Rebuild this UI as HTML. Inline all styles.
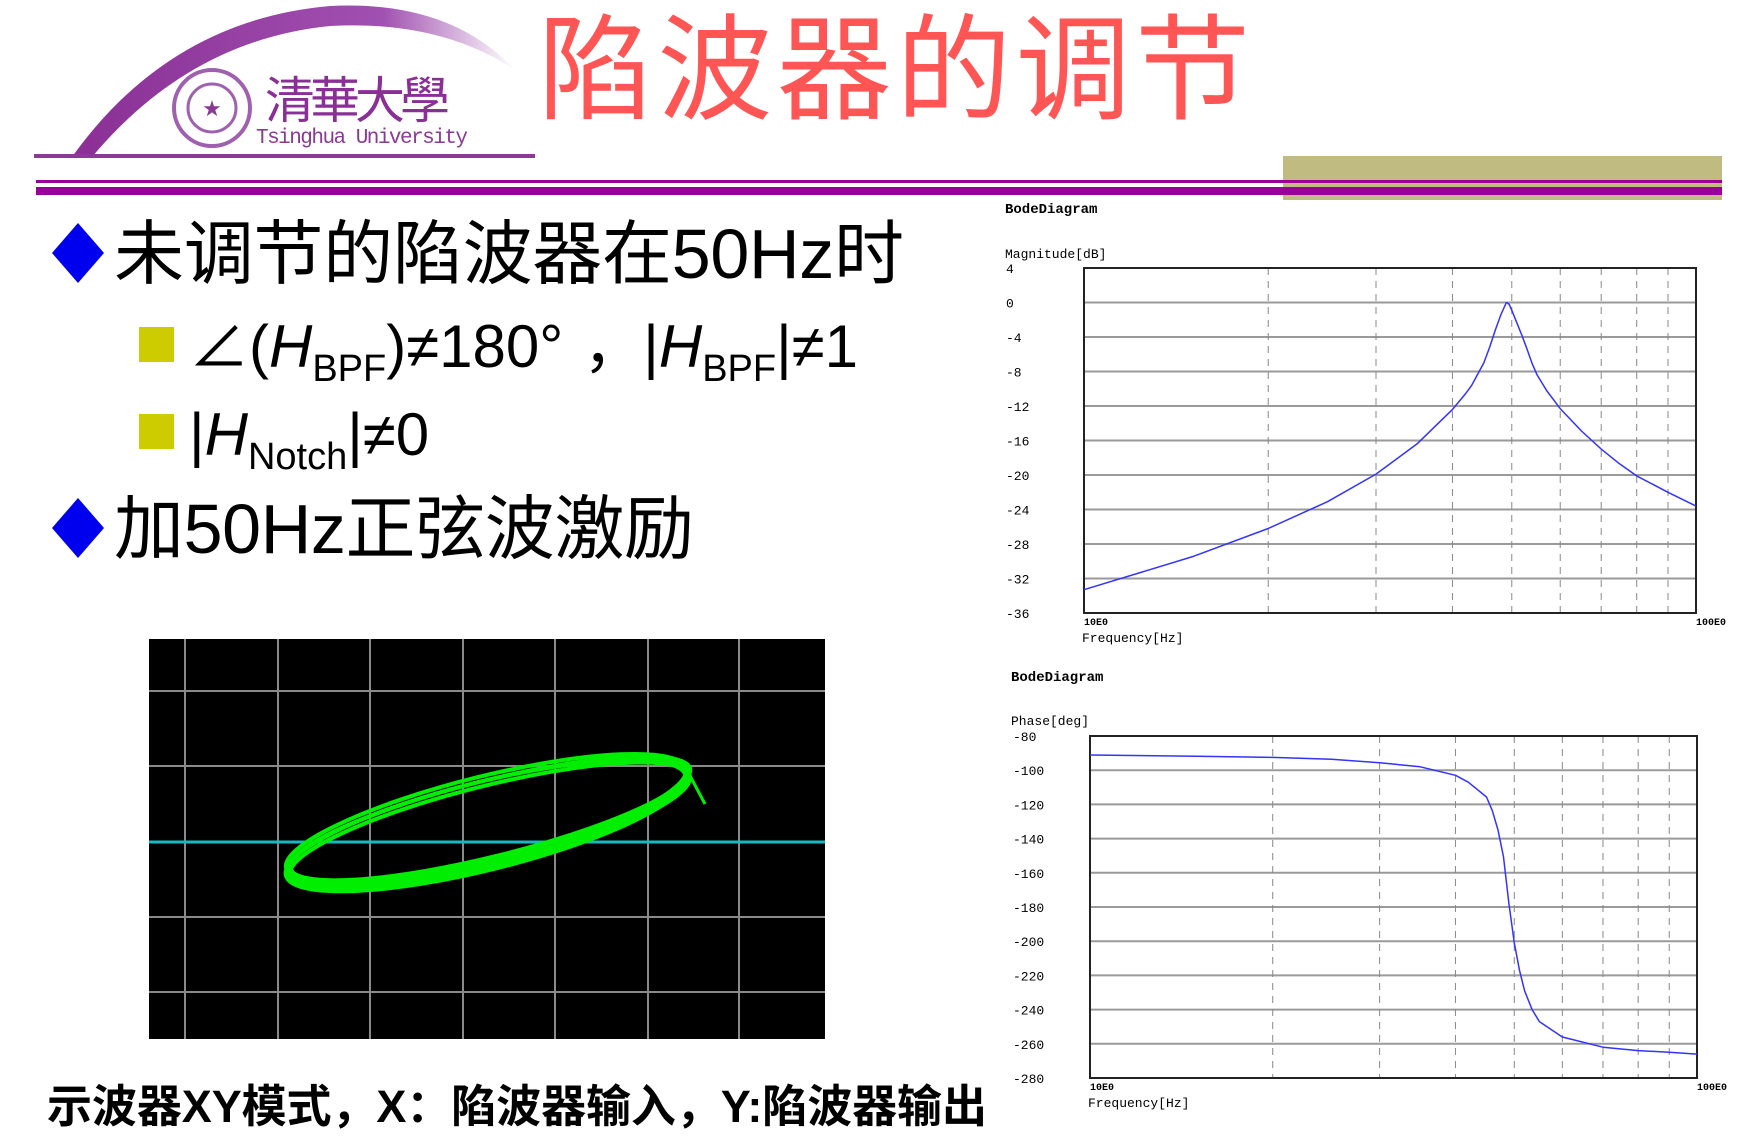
<!DOCTYPE html>
<html><head><meta charset="utf-8"><style>
html,body{margin:0;padding:0;background:#fff;}
svg{display:block;}
.cjk{font-family:"Liberation Sans","Noto Sans CJK SC",sans-serif;}
.mono{font-family:"Liberation Mono","DejaVu Sans Mono",monospace;}
</style></head><body>
<svg id="page" width="1739" height="1136" viewBox="0 0 1739 1136" xmlns="http://www.w3.org/2000/svg">
<defs>
<linearGradient id="arcg" x1="0" y1="0" x2="1" y2="0">
<stop offset="0" stop-color="#8a2f95"/><stop offset="0.7" stop-color="#a050b0"/><stop offset="1" stop-color="#a050b0" stop-opacity="0"/>
</linearGradient>
</defs>
<g>
<path d="M72,157 Q170,20 330,6 Q450,0 515,70 Q440,20 330,26 Q190,40 92,157 Z" fill="url(#arcg)"/>
<rect x="34" y="154" width="501" height="4" fill="#8a3a95"/>
<circle cx="212" cy="108" r="38" fill="none" stroke="#a060b0" stroke-width="4"/>
<circle cx="212" cy="108" r="24" fill="none" stroke="#a060b0" stroke-width="3"/>
<text x="212" y="116" text-anchor="middle" font-size="22" fill="#8a3a95" font-family="DejaVu Sans,sans-serif">★</text>
<text x="265" y="118" font-size="50" fill="#8a2f95" class="cjk" textLength="185">清華大學</text>
<text x="256" y="143" font-size="21" fill="#8a3a95" font-family="Liberation Mono,monospace" textLength="212">Tsinghua University</text>
</g>
<text x="538" y="110" font-size="115" fill="#ff5555" class="cjk" textLength="712">陷波器的调节</text>
<rect x="1283" y="156" width="439" height="44" fill="#c0bb80"/>
<rect x="36" y="180" width="1686" height="3" fill="#990099"/>
<rect x="36" y="187" width="1686" height="8" fill="#990099"/>
<polygon points="78,223 104,253 78,283 52,253" fill="#0000ee"/>
<text x="114" y="278" font-size="70" fill="#000" class="cjk" textLength="790">未调节的陷波器在50Hz时</text>
<rect x="139" y="327" width="35" height="35" fill="#cccc00"/>
<text x="189" y="367" font-size="60" fill="#000" class="cjk">∠(<tspan font-style="italic">H</tspan><tspan font-size="38" dy="14">BPF</tspan><tspan dy="-14">)≠180°</tspan><tspan dx="20">，</tspan><tspan>|</tspan><tspan font-style="italic">H</tspan><tspan font-size="38" dy="14">BPF</tspan><tspan dy="-14">|≠1</tspan></text>
<rect x="139" y="414" width="35" height="35" fill="#cccc00"/>
<text x="189" y="455" font-size="60" fill="#000" class="cjk">|<tspan font-style="italic">H</tspan><tspan font-size="38" dy="14">Notch</tspan><tspan dy="-14">|≠0</tspan></text>
<polygon points="78,498 104,528 78,558 52,528" fill="#0000ee"/>
<text x="114" y="553" font-size="70" fill="#000" class="cjk" textLength="580">加50Hz正弦波激励</text>
<g>
<rect x="149" y="639" width="676" height="400" fill="#000"/>
<g id="scopegrid" stroke="#8a8a8a" stroke-width="2"></g>
<line x1="149" y1="842" x2="825" y2="842" stroke="#18b8c0" stroke-width="3"/>
<g id="lissajous" fill="none" stroke="#00ee00" stroke-width="4"></g>
</g>
<text x="47" y="1122" font-size="45" font-weight="bold" fill="#000" class="cjk" textLength="940">示波器XY模式，X：陷波器输入，Y:陷波器输出</text>
<g id="magChart"></g>
<g id="phaseChart"></g>
</svg>
<script>
const magFreq = [10, 15, 20, 25, 30, 35, 40, 42, 43, 45, 46, 47, 48, 49, 49.5, 50, 51, 52, 53, 54, 55, 57, 60, 65, 70, 75, 80, 90, 100];
const magDb = [-33.3, -29.5, -26.2, -23.1, -19.9, -16.4, -12.4, -10.6, -9.6, -7.0, -5.2, -3.2, -1.4, 0, -0.2, -0.9, -2.4, -3.9, -5.5, -7.1, -8.4, -10.2, -12.3, -14.9, -17.0, -18.7, -20.1, -22.0, -23.6];
const magTicks = [4, 0, -4, -8, -12, -16, -20, -24, -28, -32, -36];
const phFreq = [10, 15, 20, 25, 30, 35, 40, 42, 45, 46, 47, 48, 49, 50, 51, 52, 53.5, 55, 60, 70, 80, 90, 100];
const phDeg = [-91.1, -91.9, -92.5, -93.6, -95.6, -98, -103, -107, -115.7, -123.6, -135, -150.7, -178, -201, -217, -229, -240, -247, -256, -262, -264, -265, -266];
const phTicks = [-80, -100, -120, -140, -160, -180, -200, -220, -240, -260, -280];
const decadeLines = [20, 30, 40, 50, 60, 70, 80, 90];

const NS = 'http://www.w3.org/2000/svg';
function mk(tag, attrs, parent) {
  const e = document.createElementNS(NS, tag);
  for (const k in attrs) e.setAttribute(k, attrs[k]);
  parent.appendChild(e);
  return e;
}

function bode(g, box, ticks, freqs, vals, title, ylab) {
  const x = f => box.x0 + (box.x1 - box.x0) * Math.log10(f / 10);
  const ymax = ticks[0], ymin = ticks[ticks.length - 1];
  const y = v => box.y0 + (box.y1 - box.y0) * (ymax - v) / (ymax - ymin);
  const t = mk('text', {x: box.tx, y: box.titleY, 'font-size': 14, 'font-weight': 'bold', class: 'mono', fill: '#000'}, g);
  t.textContent = 'BodeDiagram';
  
  
  const yl = mk('text', {x: box.tx, y: box.ylabY, 'font-size': 13, class: 'mono', fill: '#000'}, g);
  yl.textContent = ylab;
  
  
  ticks.forEach(v => {
    const gl = mk('line', {x1: box.x0, x2: box.x1, y1: y(v), y2: y(v), stroke: '#9a9a9a', 'stroke-width': 2}, g);
    
    
    const tl = mk('text', {x: box.lx, y: y(v) + 5, 'font-size': 13, class: 'mono', fill: '#000'}, g);
    tl.textContent = v;
    
    
  });
  decadeLines.forEach(f => {
    const vl = mk('line', {x1: x(f), x2: x(f), y1: box.y0, y2: box.y1, stroke: '#888', 'stroke-width': 1, 'stroke-dasharray': '7,6'}, g);
    
    
  });
  const fr = mk('rect', {x: box.x0, y: box.y0, width: box.x1 - box.x0, height: box.y1 - box.y0, fill: 'none', stroke: '#222', 'stroke-width': 2}, g);
  
  
  const pts = freqs.map((f, i) => x(f).toFixed(1) + ',' + y(vals[i]).toFixed(1)).join(' ');
  const pl = mk('polyline', {points: pts, fill: 'none', stroke: '#3333ff', 'stroke-width': 1.5, 'stroke-linejoin': 'round'}, g);
  
  
  const a = mk('text', {x: box.x0, y: box.y1 + 12, 'font-size': 10, class: 'mono', fill: '#000', 'font-weight': 'bold'}, g);
  a.textContent = '10E0';
  
  
  const b = mk('text', {x: box.x1, y: box.y1 + 12, 'font-size': 10, class: 'mono', fill: '#000', 'font-weight': 'bold'}, g);
  b.textContent = '100E0';
  
  
  const xt = mk('text', {x: box.x0 - 2, y: box.y1 + 29, 'font-size': 13, class: 'mono', fill: '#000'}, g);
  xt.textContent = 'Frequency[Hz]';
  
  
}
bode(document.getElementById('magChart'), {x0: 1084, x1: 1696, y0: 268, y1: 613, tx: 1005, lx: 1006, titleY: 213, ylabY: 258}, magTicks, magFreq, magDb, 'BodeDiagram', 'Magnitude[dB]');
bode(document.getElementById('phaseChart'), {x0: 1090, x1: 1697, y0: 736, y1: 1078, tx: 1011, lx: 1013, titleY: 681, ylabY: 725}, phTicks, phFreq, phDeg, 'BodeDiagram', 'Phase[deg]');

const sg = document.getElementById('scopegrid');
[185, 278, 370, 463, 555, 648, 739].forEach(gx => {
  const l = mk('line', {x1: gx, x2: gx, y1: 639, y2: 1039}, sg);
  
  
});
[691, 766, 917, 992].forEach(gy => {
  const l = mk('line', {x1: 149, x2: 825, y1: gy, y2: gy}, sg);
  
  
});
const lg = document.getElementById('lissajous');
[[0, 0, 41], [3, -3, 38], [-3, 3, 44], [1, 4, 40], [-1, -4, 42]].forEach(o => {
  const e = mk('ellipse', {cx: 488 + o[0], cy: 822 + o[1], rx: 206, ry: o[2], transform: 'rotate(-14 488 822)'}, lg);
  
  
});
const tail = mk('line', {x1: 688, y1: 772, x2: 705, y2: 804, stroke: '#00ee00', 'stroke-width': 3}, lg);


</script>
</body></html>
